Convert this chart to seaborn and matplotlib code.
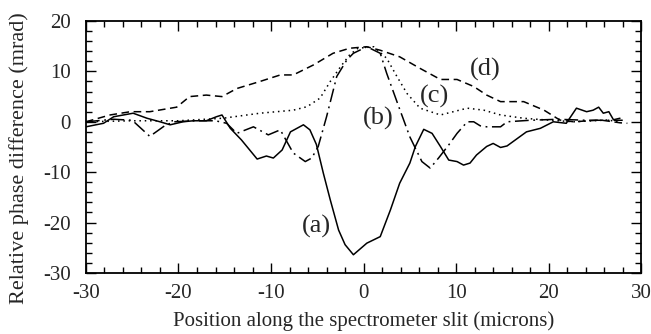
import matplotlib
matplotlib.use("Agg")
import matplotlib.pyplot as plt
import seaborn as sns
import pandas as pd
from matplotlib.ticker import MultipleLocator

# ---- data ----
a_x = [-30, -28.1, -27.0, -24.9, -23.4, -22.0, -20.9, -19.5, -18.4, -17.0, -15.9, -15.3,
       -14.4, -13.2, -11.5, -10.5, -9.75, -8.8, -7.9, -6.5, -5.8, -5.1, -4.35, -3.6,
       -2.7, -2.0, -1.1, 0.35, 1.8, 2.9, 3.9, 5.0, 5.6, 6.5, 7.4, 8.3, 9.2, 10.1, 10.8,
       11.5, 12.2, 13.3, 14.0, 14.8, 15.5, 16.4, 17.6, 19.1, 20.5, 21.9, 23.0, 24.1,
       24.8, 25.4, 25.9, 26.5, 27.0, 27.7]
a_y = [-1.0, -0.3, 1.0, 1.7, 0.7, 0.0, -0.6, 0.0, 0.2, 0.2, 1.0, 1.35,
       -1.3, -3.6, -7.4, -6.8, -7.2, -5.6, -2.0, -0.6, -1.6, -4.5, -10.2, -15.5,
       -21.5, -24.4, -26.4, -24.1, -22.8, -17.5, -12.2, -8.2, -4.9, -1.5, -2.3, -4.9, -7.6, -7.9, -8.6,
       -8.2, -6.6, -4.9, -4.3, -5.1, -4.8, -3.6, -2.0, -1.3, 0.0, -0.3, 2.7, 2.0,
       2.3, 2.9, 1.7, 2.0, 0.4, 0.7]

b_x = [-30, -27.0, -25.0, -23.1, -21.5, -20.5, -18.0, -16.0, -14.8, -13.7, -11.9, -10.3,
       -9.0, -7.6, -6.3, -5.6, -4.9, -4.0, -2.9, -1.8, -1.1, 0.35, 1.8, 2.5, 3.8, 5.0,
       6.3, 7.2, 8.1, 9.2, 10.1, 11.2, 11.9, 12.6, 13.3, 14.8, 15.5, 18.0, 21.0, 24.0, 28.0]
b_y = [0.0, 0.5, 0.3, -2.9, -0.8, 0.0, 0.2, 0.2, -0.3, -2.3, -1.0, -2.6,
       -1.6, -6.2, -7.9, -7.2, -4.9, 1.0, 9.0, 12.3, 13.6, 14.9, 13.6, 9.6, 3.0, -3.0,
       -7.9, -9.2, -7.2, -4.6, -2.3, 0.0, 0.0, -0.8, -1.0, -1.0, 0.0, 0.3, 0.5, 0.3, 0.3]

c_x = [-30, -25.0, -20.0, -15.2, -11.2, -7.6, -6.1, -4.7, -3.6, -2.5, -1.5, -0.6, 1.1,
       2.5, 3.6, 4.7, 6.1, 8.3, 11.2, 13.0, 14.8, 17.3, 19.8, 22.7, 26.3, 27.7]
c_y = [0.0, 0.2, 0.2, 0.7, 1.7, 2.3, 3.0, 4.7, 8.0, 10.9, 13.3, 14.6, 14.9,
       12.6, 9.0, 5.6, 2.7, 1.35, 2.7, 2.3, 1.35, 0.7, 0.35, 0.0, 0.35, 0.0]

d_x = [-30, -27.4, -25.2, -23.1, -20.2, -18.8, -17.0, -15.3, -13.7, -11.2, -9.0, -7.6,
       -5.4, -3.3, -1.5, 0.35, 1.8, 3.9, 6.1, 8.3, 10.1, 11.9, 13.3, 14.8, 17.3, 19.5,
       21.2, 22.7, 25.6, 27.7, 28.5]
d_y = [0.0, 1.35, 2.0, 2.0, 2.9, 5.0, 5.3, 5.0, 6.6, 8.0, 9.3, 9.3,
       11.3, 13.6, 14.6, 14.9, 14.2, 12.9, 10.6, 8.4, 8.4, 7.0, 5.3, 4.0, 4.0, 2.3,
       0.35, 0.0, 0.35, -0.2, -0.3]

labels = ["(a)", "(b)", "(c)", "(d)"]
label_x = [-5.1, 1.6, 7.7, 13.1]
label_y = [-20.8, 0.7, 5.0, 10.3]

xticks = [-30, -20, -10, 0, 10, 20, 30]
yticks = [-30, -20, -10, 0, 10, 20]

sns.set_style("ticks")
plt.rcParams["font.family"] = ["Liberation Serif", "DejaVu Serif"]
plt.rcParams["font.size"] = 15
plt.rcParams["axes.unicode_minus"] = False

fig = plt.figure(figsize=(6.51, 3.34), dpi=100)
ax = fig.add_axes([0.132, 0.183, 0.853, 0.754])

series = [(a_x, a_y, "-"), (b_x, b_y, (0, (9, 3, 1.2, 3))),
          (c_x, c_y, (0, (1, 2.5))), (d_x, d_y, (0, (5, 3)))]
for xs, ys, ls in series:
    df = pd.DataFrame({"x": xs, "y": ys})
    sns.lineplot(data=df, x="x", y="y", sort=False, ax=ax, color="black",
                 linewidth=1.1, linestyle=ls, estimator=None)

for t, lx, ly in zip(labels, label_x, label_y):
    ax.text(lx, ly, t, ha="center", va="center", fontsize=19)

ax.set_xlim(-30, 30)
ax.set_ylim(-30, 20)
ax.set_xticks(xticks)
ax.set_yticks(yticks)
ax.xaxis.set_minor_locator(MultipleLocator(2))
ax.yaxis.set_minor_locator(MultipleLocator(2))
ax.tick_params(which="both", direction="in", top=True, right=True, color="black", width=1)
ax.tick_params(which="major", length=7, labelsize=15)
ax.tick_params(axis="x", which="major", pad=8)
ax.tick_params(axis="y", which="major", pad=11)
ax.tick_params(which="minor", length=4)
for s in ax.spines.values():
    s.set_visible(True)
    s.set_color("black")
    s.set_linewidth(1.3)
ax.set_xlabel("Position along the spectrometer slit (microns)", fontsize=15, labelpad=6)
ax.set_ylabel("Relative phase difference (mrad)", fontsize=16)
ax.yaxis.set_label_coords(-0.102, 0.455)

fig.savefig("out.png", dpi=100)
